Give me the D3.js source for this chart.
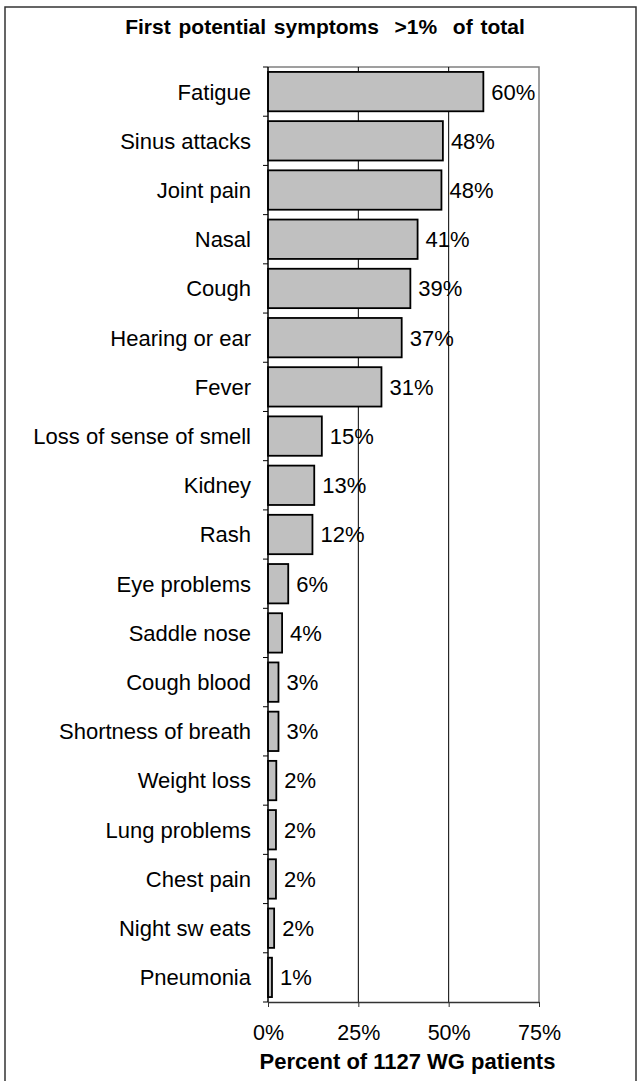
<!DOCTYPE html>
<html>
<head>
<meta charset="utf-8">
<script src="https://cdn.jsdelivr.net/npm/d3@7"></script>
<style>
  body { margin: 0; background: #fff; }
  svg { display: block; font-family: "Liberation Sans", Arial, sans-serif; }
</style>
</head>
<body>
<div id="chart"></div>
<script>
// Symptom categories, top to bottom
var categories = ["Fatigue", "Sinus attacks", "Joint pain", "Nasal", "Cough",
    "Hearing or ear", "Fever", "Loss of sense of smell", "Kidney", "Rash",
    "Eye problems", "Saddle nose", "Cough blood", "Shortness of breath",
    "Weight loss", "Lung problems", "Chest pain", "Night sw eats", "Pneumonia"];

// Percent of patients
var values = [59.6, 48.4, 48.0, 41.4, 39.4, 37.0, 31.4, 14.9, 12.8, 12.3,
    5.6, 3.9, 2.9, 2.9, 2.3, 2.2, 2.2, 1.7, 1.1];

var xTicks = [0, 25, 50, 75];

var data = categories.map(function (c, i) { return { name: c, value: values[i] }; });

var width = 637, height = 1081;
var plot = { left: 268, right: 539, top: 67, bottom: 1002 };

var svg = d3.select("#chart").append("svg")
    .attr("width", width)
    .attr("height", height);

// Outer chart border
svg.append("rect")
    .attr("x", 5).attr("y", 7)
    .attr("width", 631).attr("height", 1090)
    .attr("fill", "none")
    .attr("stroke", "#333")
    .attr("stroke-width", 1.5);

var x = d3.scaleLinear().domain([0, 75]).range([plot.left, plot.right]);
var y = d3.scaleBand().domain(categories)
    .range([plot.top, plot.bottom])
    .paddingInner(0.2)
    .paddingOuter(0.1);

// Plot area frame (top and right, grey)
svg.append("path")
    .attr("d", "M" + plot.left + "," + plot.top + "H" + plot.right + "V" + plot.bottom)
    .attr("fill", "none")
    .attr("stroke", "#808080")
    .attr("stroke-width", 1.5);

// Gridlines
svg.selectAll(".grid")
    .data([25, 50])
    .enter()
    .append("line")
    .attr("class", "grid")
    .attr("x1", function (d) { return x(d); })
    .attr("x2", function (d) { return x(d); })
    .attr("y1", plot.top)
    .attr("y2", plot.bottom)
    .attr("stroke", "#000")
    .attr("stroke-width", 1);

// Bars
svg.selectAll(".bar")
    .data(data)
    .enter()
    .append("rect")
    .attr("class", "bar")
    .attr("x", x(0))
    .attr("y", function (d) { return y(d.name); })
    .attr("width", function (d) { return x(d.value) - x(0); })
    .attr("height", y.bandwidth())
    .attr("fill", "#c0c0c0")
    .attr("stroke", "#000")
    .attr("stroke-width", 1.8);

// Value labels
svg.selectAll(".val")
    .data(data)
    .enter()
    .append("text")
    .attr("class", "val")
    .attr("x", function (d) { return x(d.value) + 8; })
    .attr("y", function (d) { return y(d.name) + y.bandwidth() / 2; })
    .attr("dy", "0.36em")
    .style("font-size", "22px")
    .text(function (d) { return Math.round(d.value) + "%"; });

// Category labels
svg.selectAll(".cat")
    .data(data)
    .enter()
    .append("text")
    .attr("class", "cat")
    .attr("x", 251)
    .attr("y", function (d) { return y(d.name) + y.bandwidth() / 2; })
    .attr("dy", "0.36em")
    .attr("text-anchor", "end")
    .style("font-size", "22px")
    .style("white-space", "pre")
    .text(function (d) { return d.name; });

// Left axis line with ticks between categories
var step = y.step();
var bounds = categories.map(function (c) { return y(c) - step * y.paddingInner() / 2; });
bounds.push(plot.bottom);
svg.append("line")
    .attr("x1", plot.left).attr("x2", plot.left)
    .attr("y1", plot.top).attr("y2", plot.bottom)
    .attr("stroke", "#000").attr("stroke-width", 1.5);
svg.selectAll(".ytick")
    .data(bounds)
    .enter()
    .append("line")
    .attr("class", "ytick")
    .attr("x1", plot.left - 5).attr("x2", plot.left)
    .attr("y1", function (d) { return d; })
    .attr("y2", function (d) { return d; })
    .attr("stroke", "#000").attr("stroke-width", 1);

// Bottom axis
var xAxis = svg.append("g")
    .attr("transform", "translate(0," + plot.bottom + ")")
    .call(d3.axisBottom(x)
        .tickValues(xTicks)
        .tickFormat(function (d) { return d + "%"; })
        .tickSize(5)
        .tickPadding(18)
        .tickSizeOuter(0));
xAxis.select(".domain").attr("stroke", "#333").attr("stroke-width", 1.5);
xAxis.selectAll(".tick line").attr("stroke", "#333");
xAxis.selectAll(".tick text")
    .attr("fill", "#000")
    .style("font-size", "21.5px")
    .style("font-family", "'Liberation Sans', Arial, sans-serif");

// Axis title
svg.append("text")
    .attr("x", (plot.left + plot.right) / 2 + 4)
    .attr("y", 1069)
    .attr("text-anchor", "middle")
    .style("font-size", "22px")
    .style("font-weight", "bold")
    .text("Percent of 1127 WG patients");

// Chart title
svg.append("text")
    .attr("x", 325)
    .attr("y", 34)
    .attr("text-anchor", "middle")
    .style("font-size", "21px")
    .style("font-weight", "bold")
    .style("white-space", "pre")
    .style("word-spacing", "2px")
    .text("First potential symptoms  >1%  of total");
</script>
</body>
</html>
